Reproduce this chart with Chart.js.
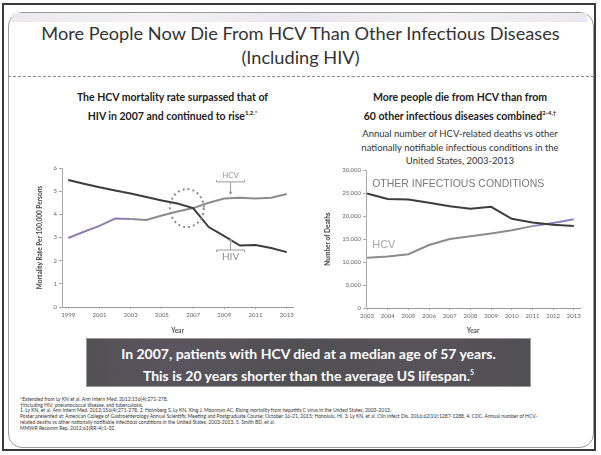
<!DOCTYPE html>
<html>
<head>
<meta charset="utf-8">
<script src="https://cdn.jsdelivr.net/npm/chart.js@4.4.0/dist/chart.umd.min.js"></script>
<style>
  html, body { margin:0; padding:0; background:#fff; }
  #page { position:relative; width:601px; height:455px; overflow:hidden; background:#fff; font-family: Lato, "Open Sans", sans-serif; color:#333; }
  .abs { position:absolute; }
  #outer { left:2px; top:3px; width:594px; height:448px; border:2px solid #3a3a3a; box-sizing:border-box; }
  #inner { left:8px; top:12px; width:586px; height:436px; border:1px solid #9a9a9a; border-radius:14px; box-sizing:border-box; }
  #strip { left:12px; top:13px; width:575px; height:9px; background:linear-gradient(to right,#ece8f0,#f4f2f6,#e9e5ef,#f3f1f5,#ebe7f0); }
  #rule { left:8px; top:76px; width:586px; height:0; border-top:1px dashed #8a8a8a; }
  .title { left:0; width:601px; text-align:center; font-size:18.2px; color:#333; white-space:nowrap; }
  .sub { text-align:center; font-weight:bold; font-size:10.5px; color:#222; white-space:nowrap; line-height:15px; }
  .sub2 { text-align:center; font-size:9.5px; color:#333; white-space:nowrap; line-height:13.5px; }
  #banner { left:86px; top:338px; width:445px; height:49px; background:#4e4e4e; border:1px solid #9a9a9a; box-sizing:border-box;
            color:#fff; font-weight:bold; font-size:14px; text-align:center; line-height:18px; padding-top:6px; white-space:nowrap;
            background-image: radial-gradient(circle at 20% 40%, #5a5560 0, transparent 40%), radial-gradient(circle at 75% 60%, #57535c 0, transparent 45%); }
  #foot { left:20px; top:397px; font-size:5px; line-height:5.7px; color:#333; white-space:nowrap; }
  canvas { position:absolute; }
</style>
</head>
<body>
<div id="page">
  <div class="abs" id="outer"></div>
  <div class="abs" id="inner"></div>
  <div class="abs" id="strip"></div>
  <div class="abs" id="rule"></div>
  <div class="abs title" style="top:22px;">More People Now Die From HCV Than Other Infectious Diseases</div>
  <div class="abs title" style="top:46px;">(Including HIV)</div>

  <div class="abs sub" style="left:70px; width:205px; top:90px;">The HCV mortality rate surpassed that of<br>HIV in 2007 and continued to rise<sup style="font-size:6px;">1,2,*</sup></div>
  <div class="abs sub" style="left:355px; width:210px; top:90px;">More people die from HCV than from<br>60 other infectious diseases combined<sup style="font-size:6px;">2-4,†</sup></div>
  <div class="abs sub2" style="left:355px; width:210px; top:127px;">Annual number of HCV-related deaths vs other<br>nationally notifiable infectious conditions in the<br>United States, 2003-2013</div>

  <canvas id="left" width="272" height="175" style="left:28px; top:160px;"></canvas>
  <canvas id="right" width="296" height="175" style="left:300px; top:160px;"></canvas>

  <div class="abs" id="banner">In 2007, patients with HCV died at a median age of 57 years.<br>This is 20 years shorter than the average US lifespan.<sup style="font-size:7px;">5</sup></div>

  <div class="abs" id="foot">
    *Extended from Ly KN et al. Ann Intern Med. 2012;156(4):271-278.<br>
    †Including HIV, pneumococcal disease, and tuberculosis.<br>
    1. Ly KN, et al. Ann Intern Med. 2012;156(4):271-278. 2. Holmberg S, Ly KN, Xing J, Moorman AC. Rising mortality from hepatitis C virus in the United States, 2003-2013.<br>
    Poster presented at: American College of Gastroenterology Annual Scientific Meeting and Postgraduate Course; October 16-21, 2015; Honolulu, HI. 3. Ly KN, et al. Clin Infect Dis. 2016;62(10):1287-1288. 4. CDC. Annual number of HCV-<br>
    related deaths vs other nationally notifiable infectious conditions in the United States, 2003-2013. 5. Smith BD, et al.<br>
    MMWR Recomm Rep. 2012;61(RR-4):1-32.
  </div>
</div>

<script>
// ---- data ----
const yearsLeft = [1999,2000,2001,2002,2003,2004,2005,2006,2007,2008,2009,2010,2011,2012,2013];
const hivRate   = [5.48,5.32,5.17,5.03,4.90,4.75,4.60,4.47,4.27,3.45,3.06,2.65,2.68,2.55,2.37];
const hcvRate   = [2.98,3.25,3.50,3.82,3.80,3.76,3.95,4.12,4.27,4.50,4.68,4.72,4.68,4.72,4.88];
const leftXTicks = [1999,2001,2003,2005,2007,2009,2011,2013];
const leftYTicks = [0,1,2,3,4,5,6];

const yearsRight  = [2003,2004,2005,2006,2007,2008,2009,2010,2011,2012,2013];
const otherDeaths = [24900,23700,23600,22900,22100,21600,22000,19400,18600,18100,17800];
const hcvDeaths   = [10900,11200,11700,13700,15000,15600,16200,16900,17800,18500,19300];
const rightYTicks = [0,5000,10000,15000,20000,25000,30000];

Chart.defaults.font.family = 'Lato, "Open Sans", sans-serif';
Chart.defaults.color = '#777';

const pts = (xs, ys) => xs.map((x,i) => ({x:x, y:ys[i]}));
const tickFont = {size:6};
const titleFont = {size:6.5, weight:'bold'};

// annotations for left chart
const leftNotes = {
  id:'leftNotes',
  afterDatasetsDraw(chart){
    const c = chart.ctx, xs = chart.scales.x, ys = chart.scales.y;
    c.save();
    c.strokeStyle = '#8a8a8a'; c.lineWidth = 2; c.setLineDash([2,3]);
    c.beginPath();
    c.ellipse(xs.getPixelForValue(2006.6), ys.getPixelForValue(4.27), 17, 19, 0, 0, Math.PI*2);
    c.stroke();
    c.setLineDash([]);
    c.strokeStyle = '#9a9a9a'; c.lineWidth = 1;
    const ax = xs.getPixelForValue(2009.4);
    const hb = ys.getPixelForValue(5.4), ha = ys.getPixelForValue(4.85);
    c.beginPath();
    c.moveTo(ax-14, hb-2); c.lineTo(ax-14, hb); c.lineTo(ax+14, hb); c.lineTo(ax+14, hb-2);
    c.moveTo(ax, hb); c.lineTo(ax, ha);
    c.stroke();
    c.fillStyle = '#9a9a9a';
    c.beginPath(); c.moveTo(ax-2, ha-3); c.lineTo(ax+2, ha-3); c.lineTo(ax, ha); c.fill();
    c.font = '8px Lato, sans-serif'; c.textAlign = 'center'; c.textBaseline = 'bottom';
    c.fillText('HCV', ax, hb-2);
    const vb = ys.getPixelForValue(2.46), va = ys.getPixelForValue(2.98);
    c.beginPath();
    c.moveTo(ax-14, vb+2); c.lineTo(ax-14, vb); c.lineTo(ax+14, vb); c.lineTo(ax+14, vb+2);
    c.moveTo(ax, vb); c.lineTo(ax, va);
    c.stroke();
    c.beginPath(); c.moveTo(ax-2, va+3); c.lineTo(ax+2, va+3); c.lineTo(ax, va); c.fill();
    c.font = '10px Lato, sans-serif'; c.textBaseline = 'top'; c.fillStyle = '#8a8a8a';
    c.fillText('HIV', ax, vb+2);
    c.restore();
  }
};

new Chart(document.getElementById('left'), {
  type:'line',
  data:{ datasets:[
    { label:'HIV', data:pts(yearsLeft, hivRate), borderColor:'#3c3c3c', borderWidth:2, pointRadius:0, tension:0 },
    { label:'HCV', data:pts(yearsLeft, hcvRate), borderColor:'#8c8c8c', borderWidth:2, pointRadius:0, tension:0,
      segment:{ borderColor: ctx => ctx.p0.parsed.x < 2003 ? '#8e80b4' : '#8c8c8c' } }
  ]},
  options:{
    responsive:false, animation:false, devicePixelRatio:1,
    layout:{ padding:{left:8, top:8, right:7, bottom:0} },
    plugins:{ legend:{display:false}, tooltip:{enabled:false} },
    scales:{
      x:{ type:'linear', min:1998.6, max:2013.4,
          afterBuildTicks: s => { s.ticks = leftXTicks.map(v => ({value:v})); },
          afterFit: s => { s.height = 28; },
          ticks:{ font:tickFont, color:'#666', padding:2, maxRotation:0, callback: v => String(v) },
          grid:{ drawOnChartArea:false, tickLength:2, color:'#aaa' },
          border:{ color:'#999', dash:[2,2] },
          title:{ display:true, text:'Year', font:titleFont, color:'#555', padding:{top:1,bottom:0} } },
      y:{ min:0, max:6,
          afterBuildTicks: s => { s.ticks = leftYTicks.map(v => ({value:v})); },
          afterFit: s => { s.width = 26; },
          ticks:{ font:tickFont, color:'#666', padding:2 },
          grid:{ drawOnChartArea:false, tickLength:3, color:'#aaa' },
          border:{ color:'#aaa' },
          title:{ display:true, text:'Mortality Rate Per 100,000 Persons', font:titleFont, color:'#444', padding:{top:0,bottom:0} } }
    }
  },
  plugins:[leftNotes]
});

const rightNotes = {
  id:'rightNotes',
  afterDatasetsDraw(chart){
    const c = chart.ctx, xs = chart.scales.x, ys = chart.scales.y;
    c.save();
    c.fillStyle = '#7a7a7a'; c.font = '10.5px "Liberation Sans", Arial, sans-serif';
    c.textAlign = 'left'; c.textBaseline = 'middle';
    c.fillText('OTHER INFECTIOUS CONDITIONS', xs.getPixelForValue(2003.25), ys.getPixelForValue(26900));
    c.fillStyle = '#a8a8a8'; c.font = '11px "Liberation Sans", Arial, sans-serif';
    c.fillText('HCV', xs.getPixelForValue(2003.25), ys.getPixelForValue(13800));
    c.restore();
  }
};

new Chart(document.getElementById('right'), {
  type:'line',
  data:{ datasets:[
    { label:'Other infectious conditions', data:pts(yearsRight, otherDeaths), borderColor:'#3c3c3c', borderWidth:2, pointRadius:0, tension:0 },
    { label:'HCV', data:pts(yearsRight, hcvDeaths), borderColor:'#8c8c8c', borderWidth:2, pointRadius:0, tension:0,
      segment:{ borderColor: ctx => ctx.p0.parsed.x >= 2011 ? '#8e80c4' : '#8c8c8c' } }
  ]},
  options:{
    responsive:false, animation:false, devicePixelRatio:1,
    layout:{ padding:{left:24, top:10, right:16, bottom:0} },
    plugins:{ legend:{display:false}, tooltip:{enabled:false} },
    scales:{
      x:{ type:'linear', min:2002.95, max:2013.3,
          afterBuildTicks: s => { s.ticks = yearsRight.map(v => ({value:v})); },
          afterFit: s => { s.height = 27; },
          ticks:{ font:tickFont, color:'#666', padding:2, maxRotation:0, autoSkip:false, callback: v => String(v) },
          grid:{ drawOnChartArea:false, tickLength:2, color:'#aaa' },
          border:{ color:'#999', dash:[2,2] },
          title:{ display:true, text:'Year', font:titleFont, color:'#555', padding:{top:1,bottom:0} } },
      y:{ min:0, max:30000,
          afterBuildTicks: s => { s.ticks = rightYTicks.map(v => ({value:v})); },
          afterFit: s => { s.width = 42; },
          ticks:{ font:tickFont, color:'#666', padding:2, callback: v => v.toLocaleString('en-US') },
          grid:{ drawOnChartArea:false, tickLength:3, color:'#aaa' },
          border:{ color:'#aaa' },
          title:{ display:true, text:'Number of Deaths', font:titleFont, color:'#444', padding:{top:0,bottom:0} } }
    }
  },
  plugins:[rightNotes]
});
</script>
</body>
</html>
